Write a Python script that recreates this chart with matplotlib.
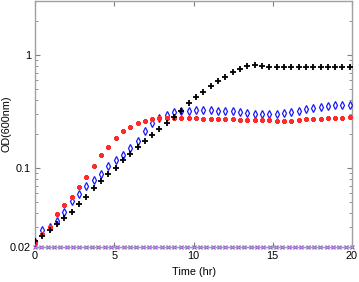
import numpy as np
import matplotlib
matplotlib.use("Agg")
import matplotlib.pyplot as plt
from matplotlib.ticker import LogLocator, NullFormatter, FixedLocator, FixedFormatter

plt.rcParams['font.family'] = ['Liberation Sans', 'DejaVu Sans']

# sampling times (hr) for the three cultures
t = [0.0, 0.46, 0.92, 1.39, 1.85, 2.31, 2.77, 3.23, 3.70, 4.16, 4.62,
     5.08, 5.54, 6.01, 6.47, 6.93, 7.39, 7.85, 8.32, 8.78, 9.24, 9.70,
     10.16, 10.63, 11.09, 11.55, 12.01, 12.47, 12.94, 13.40, 13.86, 14.32,
     14.78, 15.25, 15.71, 16.17, 16.63, 17.09, 17.56, 18.02, 18.48, 18.94,
     19.40, 19.87]

od_black = [0.0227, 0.0252, 0.0282, 0.0323, 0.0363, 0.0411, 0.0485, 0.0557,
            0.0663, 0.0765, 0.089, 0.101, 0.1186, 0.133, 0.152, 0.172, 0.195,
            0.221, 0.252, 0.285, 0.323, 0.373, 0.422, 0.472, 0.529, 0.586,
            0.643, 0.705, 0.757, 0.805, 0.814, 0.805, 0.79, 0.787, 0.787,
            0.785, 0.787, 0.787, 0.785, 0.787, 0.787, 0.787, 0.787, 0.787]

od_red = [0.0215, 0.026, 0.0303, 0.0394, 0.0474, 0.0554, 0.0686, 0.083,
          0.104, 0.130, 0.154, 0.184, 0.211, 0.232, 0.251, 0.263, 0.274,
          0.278, 0.278, 0.278, 0.279, 0.276, 0.275, 0.273, 0.272, 0.271,
          0.270, 0.270, 0.268, 0.268, 0.266, 0.265, 0.264, 0.262, 0.262,
          0.263, 0.266, 0.270, 0.272, 0.274, 0.276, 0.278, 0.280, 0.282]

od_blue = [0.022, 0.0284, 0.030, 0.0343, 0.0407, 0.0507, 0.059, 0.069,
           0.078, 0.089, 0.104, 0.117, 0.1306, 0.149, 0.174, 0.214, 0.251,
           0.275, 0.297, 0.312, 0.318, 0.323, 0.325, 0.325, 0.324, 0.322,
           0.320, 0.317, 0.313, 0.308, 0.302, 0.298, 0.298, 0.300, 0.305,
           0.313, 0.323, 0.332, 0.340, 0.348, 0.355, 0.362, 0.365, 0.362]

# blank medium, read more often
t_blank = [0.0, 0.4, 0.8, 1.2, 1.6, 2.0, 2.4, 2.8, 3.2, 3.6, 4.0, 4.4, 4.8,
           5.2, 5.6, 6.0, 6.4, 6.8, 7.2, 7.6, 8.0, 8.4, 8.8, 9.2, 9.6, 10.0,
           10.4, 10.8, 11.2, 11.6, 12.0, 12.4, 12.8, 13.2, 13.6, 14.0, 14.4,
           14.8, 15.2, 15.6, 16.0, 16.4, 16.8, 17.2, 17.6, 18.0, 18.4, 18.8,
           19.2, 19.6, 20.0]
od_blank = [0.02] * len(t_blank)

fig = plt.figure(figsize=(3.59, 2.82), dpi=100)
ax = fig.add_axes([0.0975, 0.124, 0.883, 0.872])

ax.plot(t_blank, od_blank, color='#5cc8f5', lw=1.0, marker='x', ms=2.6,
        mec='#9955cc', mew=0.9, clip_on=False, zorder=2)
ax.plot(t, od_blue, ls='none', marker='d', ms=3.6, mfc='none', mec='#1a1aff',
        mew=0.9, zorder=3)
ax.plot(t, od_red, ls='none', marker=(8, 2, 0), ms=3.3, mec='#ff2a2a',
        mew=1.6, zorder=3)
ax.plot(t, od_black, ls='none', marker='+', ms=4.2, mec='black', mew=1.3,
        zorder=4)

ax.set_yscale('log')
ax.set_xlim(0, 20)
ax.set_ylim(0.02, 3)
ax.set_xticks([0, 5, 10, 15, 20])
ax.yaxis.set_major_locator(FixedLocator([0.02, 0.1, 1]))
ax.yaxis.set_major_formatter(FixedFormatter(['0.02', '0.1', '1']))
ax.yaxis.set_minor_locator(LogLocator(base=10, subs=np.arange(2, 10)))
ax.yaxis.set_minor_formatter(NullFormatter())

for s in ax.spines.values():
    s.set_color('#a0a0a0')
    s.set_linewidth(1.0)
ax.tick_params(which='both', direction='in', top=True, right=True,
               color='#808080', labelsize=7.8, pad=3)
ax.tick_params(which='major', length=3.5)
ax.tick_params(which='minor', length=2)

ax.set_xlabel('Time (hr)', fontsize=7.8, labelpad=4)
ax.set_ylabel('OD(600nm)', fontsize=7.8)
ax.yaxis.set_label_coords(-0.075, 0.5)

fig.savefig('out.png', dpi=100)
